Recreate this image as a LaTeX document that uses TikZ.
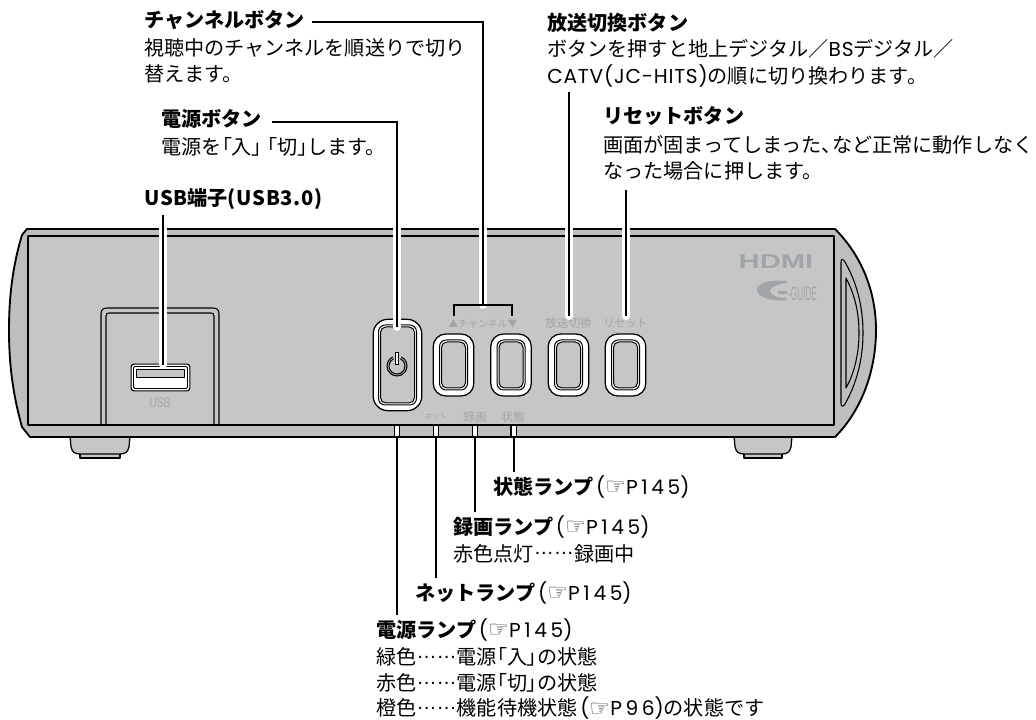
\documentclass[tikz,border=0pt]{standalone}
\usepackage{graphicx}
\usepackage{fontspec}
\setmainfont{Noto Sans CJK JP}
\newfontfamily\pal{Noto Sans CJK JP}[RawFeature={+palt}]
\newfontfamily\lsa{Noto Sans CJK JP}[LetterSpace=3.5]
\newfontfamily\lsb{Poppins}[LetterSpace=4]
\newfontfamily\lsc{Poppins}[LetterSpace=18]
\newfontfamily\lgfont{Liberation Sans}
\newfontfamily\symfont{DejaVu Sans}
\definecolor{face}{HTML}{C6C6C6}
\definecolor{logo}{HTML}{A0A5A9}
\newcommand{\myhand}{\smash{\raisebox{-.5pt}{\symfont\fontsize{17.5}{17.5}\selectfont\textcolor{black!75}{☞}}}}
\newcommand{\mylb}{{\pal 「}}
\newcommand{\myrb}{{\pal 」}}
\newcommand{\mypg}[1]{{\lsb\hspace{2pt}(}\myhand{\lsc #1}{\lsb )}}
\newcommand{\jdots}{\raisebox{.3em}{\lgfont ……}}
\tikzset{
  x=.75pt,y=-.75pt,
  outl/.style={draw=black,line width=.95pt,line join=round},
  txt/.style={anchor=base west,inner sep=0pt,font=\fontsize{15.1}{18}\selectfont},
  head/.style={txt,font=\fontsize{15.1}{18}\selectfont\bfseries},
  tiny/.style={inner sep=0pt,text=logo,font=\fontsize{8.7}{10}\selectfont},
  halo/.style={draw=white,line width=6pt,line cap=round},
  lead/.style={draw=black,line width=1.5pt},
  bout/.style={outl,fill=white,rounded corners=9.5pt,minimum width=30.5pt,minimum height=46.5pt,inner sep=0pt},
  bmid/.style={outl,line width=.75pt,fill=white,rounded corners=5pt,minimum width=21pt,minimum height=37.5pt,inner sep=0pt},
  binn/.style={outl,line width=.75pt,fill=face,rounded corners=4pt,minimum width=18pt,minimum height=34.5pt,inner sep=0pt},
  lamp/.style={draw=black,line width=.8pt,fill=white,minimum width=3.8pt,minimum height=8.2pt,inner sep=0pt},
}
\begin{document}
\begin{tikzpicture}
\useasboundingbox (0,0) rectangle (1036,720);
% feet
\foreach \a/\b in {70/130,734/792}{
  \draw[outl,fill=face] (\a+10,452) rectangle (\b-10,458);
  \draw[outl,fill=face] (\a,436) -- (\a+1,447) .. controls (\a+2,452) and (\a+5,454) .. (\a+10,454)
     -- (\b-10,454) .. controls (\b-5,454) and (\b-2,452) .. (\b-1,447) -- (\b,436);
}
% body
\draw[outl,line width=1.4pt,fill=face!96!black] (27,229) -- (835,229)
  .. controls (862,256) and (876,292) .. (876,330)
  .. controls (876,370) and (862,410) .. (835,437)
  -- (30,437) -- (22,427) .. controls (13,395) and (9,365) .. (9,330)
  .. controls (9,295) and (13,265) .. (22,235) -- cycle;
% face
\draw[outl,fill=face] (28,236) rectangle (834,425);
\draw[line width=1.6pt] (28,425) -- (834,425);
% side slot
\draw[outl,line width=.8pt] (841,262) .. controls (841,258) and (843,259) .. (845,262)
  .. controls (857,283) and (863,307) .. (863,333)
  .. controls (863,358) and (857,383) .. (845,404)
  .. controls (843,407) and (841,407) .. (841,403) -- cycle;
\draw[outl,line width=.8pt] (846,278) .. controls (855,295) and (859,313) .. (859,333)
  .. controls (859,352) and (855,372) .. (846,388) -- cycle;
% usb door
\draw[outl,line width=.8pt] (101,425) -- (101,314) .. controls (101,310) and (103,308) .. (107,308) -- (213,308)
  .. controls (217,308) and (219,310) .. (219,314) -- (219,425);
\draw[outl,line width=.8pt] (106,425) -- (106,316) .. controls (106,314) and (107,313) .. (109,313) -- (211,313)
  .. controls (213,313) and (214,314) .. (214,316) -- (214,425);
% usb port
\node[outl,line width=.8pt,fill=white,rounded corners=2pt,minimum width=44pt,minimum height=20pt,inner sep=0pt] (usbport) at (160.5,377.5) {};
\node[outl,line width=.7pt,fill=white,rounded corners=1pt,minimum width=40.5pt,minimum height=16.5pt,inner sep=0pt] (usbportb) at (160.5,377.5) {};
\node[outl,line width=.8pt,fill=face,minimum width=36pt,minimum height=6pt,inner sep=0pt] (usbslot) at (160.5,373.5) {};
\node[inner sep=0pt,text=logo] (usbtxt) at (160,403) {\scalebox{.72}[1]{\lgfont\fontsize{10.5}{11}\selectfont USB}};
% power button
\node[bout,minimum width=36.5pt,minimum height=68.5pt,rounded corners=11pt] (pwr) at (397.5,365) {};
\node[bmid,minimum width=28.5pt,minimum height=60pt] (pwrm) at (397.5,365) {};
\node[binn,minimum width=25.5pt,minimum height=57pt] (pwri) at (397.5,365) {};
\draw[line width=.8pt] (392.8,356.9) arc[start angle=-115,end angle=-425,radius=10];
\draw[line width=.8pt] (393.6,358.8) arc[start angle=-115,end angle=-425,radius=8];
\draw[line width=.6pt,fill=white] (395.8,352) rectangle (398.8,364);
% buttons
\foreach \n/\c in {ba/453.5,bb/511,bc/568.5,bd/625.5}{
  \node[bout] (\n) at (\c,365) {};
  \node[bmid] (\n m) at (\c,365) {};
  \node[binn] (\n i) at (\c,365) {};
}
% lamps
\foreach \n/\c in {la/397,lb/436,lc/475,ld/513.5}{
  \node[lamp] (\n) at (\c,431) {};
}
% small labels
\node[tiny,font=\fontsize{7.4}{9}\selectfont] (tch) at (483,323.5) {▲チャンネル▼};
\node[tiny] (tsw) at (568.5,323.5) {放送切換};
\node[tiny,font=\fontsize{8.3}{10}\selectfont] (trs) at (625.5,323.5) {リセット};
\node[tiny,font=\fontsize{5.4}{7}\selectfont] (tnet) at (436,417) {ネット};
\node[tiny] (trec) at (475,417) {録画};
\node[tiny] (tst) at (513,417) {状態};
% logos
\node[inner sep=0pt,text=logo] (hdmi) at (776,262) {\scalebox{1.46}[1]{\lgfont\bfseries\fontsize{15}{16}\selectfont HDMI}};
\fill[logo] (787,281) .. controls (768,279) and (757,284) .. (757,290)
  .. controls (757,297) and (772,302) .. (787,300) -- (786,298)
  .. controls (778,298) and (770,295) .. (770,291)
  .. controls (770,287) and (778,284) .. (787,283) -- cycle;
\fill[logo] (778,291) rectangle (787,294);
\node[inner sep=0pt,text=logo,anchor=west] (gguide) at (788,294) {\scalebox{.42}[1]{\lgfont\fontsize{14.6}{15}\selectfont -GUIDE}};
% texts
\node[head] (chhead) at (144,28) {チャンネルボタン};
\node[txt] (chb1) at (144,55.5) {視聴中のチャンネルを順送りで切り};
\node[txt] (chb2) at (144,81.5) {替えます。};
\node[head] (pwhead) at (161,127) {電源ボタン};
\node[txt] (pwb1) at (161,155) {電源を\mylb 入\myrb\hspace{4pt}\mylb 切\myrb します。};
\node[head] (usbhead) at (144,205.5) {{\lsa USB}端子{\lsa(USB3.0)}};
\node[head] (swhead) at (547,30.5) {放送切換ボタン};
\node[txt] (swb1) at (547,56.5) {ボタンを押すと地上デジタル／{\lsb BS}デジタル／};
\node[txt] (swb2) at (547,84) {{\lsb CATV(JC-HITS)}の順に切り換わります。};
\node[head] (rshead) at (603,124) {リセットボタン};
\node[txt] (rsb1) at (603,152.5) {画面が固まってしまった{\pal 、}など正常に動作しなく};
\node[txt] (rsb2) at (603,179) {なった場合に押します。};
\node[txt] (stt) at (493,494) {\textbf{状態ランプ}\mypg{P145}};
\node[txt] (rect) at (453,534) {\textbf{録画ランプ}\mypg{P145}};
\node[txt] (recb) at (453,561) {赤色点灯\jdots 録画中};
\node[txt] (nett) at (415,600) {\textbf{ネットランプ}\mypg{P145}};
\node[txt] (pst) at (376,637) {\textbf{電源ランプ}\mypg{P145}};
\node[txt] (ps1) at (376,664.5) {緑色\jdots 電源\mylb 入\myrb の状態};
\node[txt] (ps2) at (376,690.5) {赤色\jdots 電源\mylb 切\myrb の状態};
\node[txt] (ps3) at (376,715.5) {橙色\jdots 機能待機状態\mypg{P96}の状態です};
% connectors
\coordinate (usbtop) at (163,215);
\coordinate (usbend) at (163,365);
\draw[halo] (usbtop) -- (usbend);
\draw[lead] (usbtop) -- (usbend);
\coordinate (pwstart) at (272,122);
\coordinate (pwend) at (397,327);
\draw[halo] (pwstart) -| (pwend);
\draw[lead] (pwstart) -| (pwend);
\coordinate (chstart) at (312,22);
\coordinate (brk) at (483,305);
\draw[halo] (chstart) -| (brk);
\draw[lead] (chstart) -| (brk);
\draw[draw=black,line width=1.1pt] (454,316) |- (512,305) -- (512,316);
\coordinate (swtop) at (569,92);
\coordinate (swend) at (569,316);
\draw[halo] (swtop) -- (swend);
\draw[lead] (swtop) -- (swend);
\coordinate (rstop) at (626,190);
\coordinate (rsend) at (626,316);
\draw[halo] (rstop) -- (rsend);
\draw[lead] (rstop) -- (rsend);
\coordinate (lae) at (397,615);
\coordinate (lbe) at (436,578);
\coordinate (lce) at (475,512);
\coordinate (lde) at (513.5,472);
\draw[lead] (la.south) -- (lae);
\draw[lead] (lb.south) -- (lbe);
\draw[lead] (lc.south) -- (lce);
\draw[lead] (ld.south) -- (lde);
\end{tikzpicture}
\end{document}
